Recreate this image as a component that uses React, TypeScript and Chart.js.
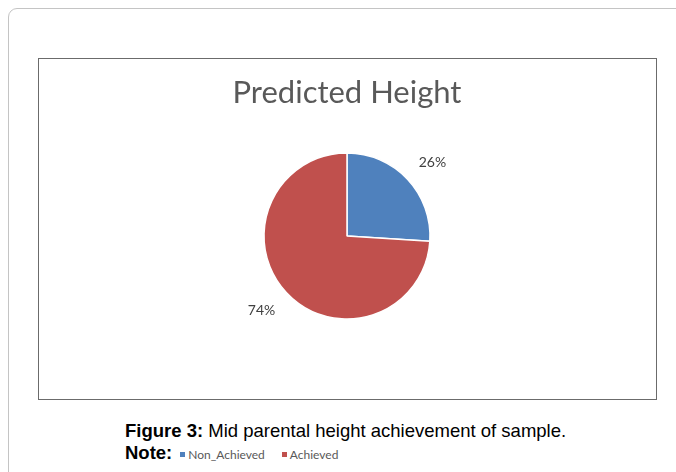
import React, { useEffect, useRef } from "react";
import { Chart, registerables } from "chart.js";

Chart.register(...registerables);

const categories = ["Non_Achieved", "Achieved"];
const values = [26, 74];
const percentLabels = ["26%", "74%"];
const colors = ["#4F81BD", "#C0504D"];
const chartTitle = "Predicted Height";

const labelPlugin = {
  id: "pctLabels",
  afterDatasetsDraw(chart: any) {
    const ctx = chart.ctx;
    const meta = chart.getDatasetMeta(0);
    ctx.save();
    ctx.font = "14px Lato, 'Open Sans', sans-serif";
    ctx.fillStyle = "#404040";
    ctx.textAlign = "center";
    ctx.textBaseline = "middle";
    meta.data.forEach((arc: any, i: number) => {
      const p = arc.getProps(["x", "y", "startAngle", "endAngle", "outerRadius"], true);
      const mid = (p.startAngle + p.endAngle) / 2 + 0.04;
      const r = p.outerRadius + 30;
      ctx.fillText(percentLabels[i], p.x + Math.cos(mid) * r, p.y + Math.sin(mid) * r);
    });
    ctx.restore();
  },
};

export default function App() {
  const ref = useRef<HTMLCanvasElement>(null);
  useEffect(() => {
    if (!ref.current) return;
    const chart = new Chart(ref.current, {
      type: "pie",
      data: {
        labels: categories,
        datasets: [
          {
            data: values,
            backgroundColor: colors,
            borderColor: "#ffffff",
            borderWidth: 1.5,
          },
        ],
      },
      options: {
        animation: false,
        responsive: false,
        radius: 83,
        layout: { padding: { top: 0, bottom: 80, left: 0, right: 0 } },
        plugins: {
          legend: { display: false },
          tooltip: { enabled: false },
          title: {
            display: true,
            text: chartTitle,
            color: "#595959",
            font: { family: "Lato, 'Open Sans', sans-serif", size: 31, weight: "normal" as any, lineHeight: 1.2 },
            padding: { top: 17.4, bottom: 41.4 },
          },
        },
      } as any,
      plugins: [labelPlugin],
    });
    return () => chart.destroy();
  }, []);

  return (
    <div style={{ position: "fixed", left: 0, top: 0, width: 676, height: 472, overflow: "hidden", background: "#fff" }}>
      <div
        style={{
          position: "absolute",
          left: 8,
          top: 7.5,
          width: 720,
          height: 520,
          border: "1.5px solid #c4c4c4",
          borderRadius: 9,
          boxSizing: "border-box",
        }}
      />
      <canvas ref={ref} width={618} height={342} style={{ position: "absolute", left: 38, top: 57, width: 618, height: 342 }} />
      <div
        style={{
          position: "absolute",
          left: 38,
          top: 57.5,
          width: 619,
          height: 342,
          border: "1.5px solid #6b6b6b",
          boxSizing: "border-box",
        }}
      />
      <div
        style={{
          position: "absolute",
          left: 125,
          top: 419.5,
          fontFamily: "'Liberation Sans', Arial, sans-serif",
          fontSize: 18.5,
          lineHeight: "21px",
          color: "#000",
          whiteSpace: "nowrap",
        }}
      >
        <b>Figure 3:</b> Mid parental height achievement of sample.
      </div>
      <div
        style={{
          position: "absolute",
          left: 125,
          top: 440.5,
          fontFamily: "'Liberation Sans', Arial, sans-serif",
          fontSize: 18.5,
          lineHeight: "21px",
          color: "#000",
          whiteSpace: "nowrap",
          display: "flex",
          alignItems: "center",
        }}
      >
        <b>Note:</b>
        <span style={{ display: "inline-flex", alignItems: "center", marginLeft: 8, marginTop: 3 }}>
          {categories.map((c, i) => (
            <span key={c} style={{ display: "inline-flex", alignItems: "center", marginRight: 17 }}>
              <span style={{ width: 5, height: 5, background: colors[i], display: "inline-block", marginRight: 3 }} />
              <span style={{ fontFamily: "Lato, 'Open Sans', sans-serif", fontSize: 12, color: "#595959" }}>{c}</span>
            </span>
          ))}
        </span>
      </div>
    </div>
  );
}
